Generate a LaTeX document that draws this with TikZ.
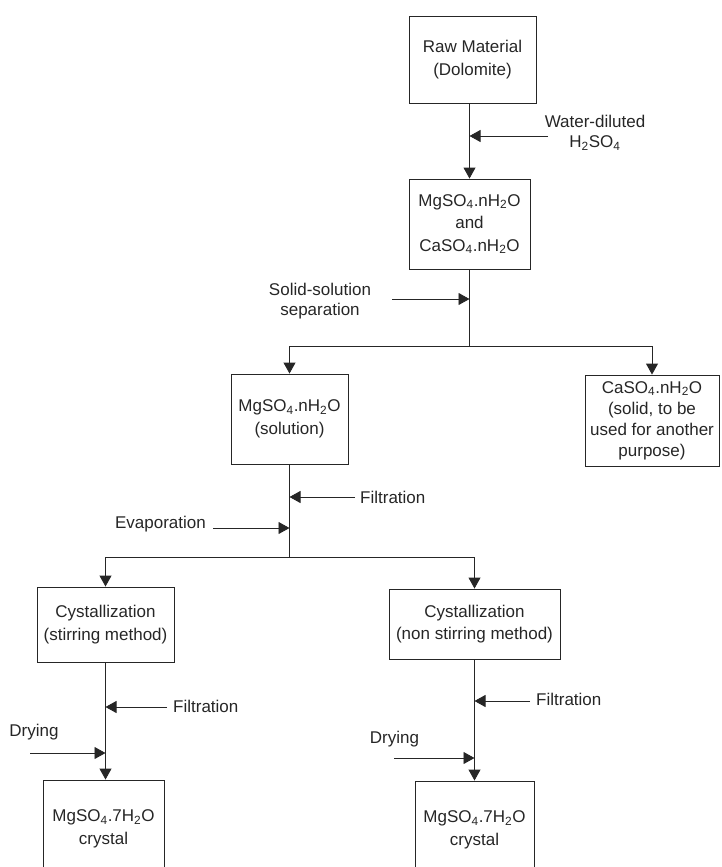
\documentclass[tikz,border=0pt]{standalone}
\usepackage{fontspec}
\setmainfont{Liberation Sans}
\usetikzlibrary{arrows.meta}

\begin{document}
\begin{tikzpicture}[x=1pt,y=-1pt,
		every node/.style = {font=\fontsize{17}{22.5}\selectfont, text=black!85},
		procbox/.style = {draw=black!85, line width=0.9pt, align=center, inner sep=0pt},
		note/.style = {align=center, inner sep=0pt, font=\fontsize{17}{20}\selectfont},
		link/.style = {draw=black!85, line width=0.9pt},
		flow/.style = {link, -{Triangle[length=11pt,width=12pt]}}]
		\useasboundingbox (0,0) rectangle (721,867);
		% boxes
		\node[procbox, minimum width=127, minimum height=87] (raw) at (472.5,59.5) {Raw Material\\(Dolomite)};
		\node[procbox, minimum width=121, minimum height=90] (mix) at (469.5,224) {MgSO\textsubscript{4}.nH\textsubscript{2}O\\and\\CaSO\textsubscript{4}.nH\textsubscript{2}O};
		\node[procbox, minimum width=117, minimum height=90] (sol) at (289.5,419) {MgSO\textsubscript{4}.nH\textsubscript{2}O\\(solution)};
		\node[procbox, minimum width=134, minimum height=91, font=\fontsize{17}{21}\selectfont] (solid) at (652,420.5) {CaSO\textsubscript{4}.nH\textsubscript{2}O\\(solid, to be\\used for another\\purpose)};
		\node[procbox, minimum width=137, minimum height=75] (stir) at (105.5,624.5) {Cystallization\\(stirring method)};
		\node[procbox, minimum width=171, minimum height=70] (nonstir) at (474.5,624) {Cystallization\\(non stirring method)};
		\node[procbox, minimum width=121, minimum height=98] (cry1) at (103.5,829) {MgSO\textsubscript{4}.7H\textsubscript{2}O\\crystal};
		\node[procbox, minimum width=119, minimum height=98] (cry2) at (474.5,830) {MgSO\textsubscript{4}.7H\textsubscript{2}O\\crystal};
		% main flow
		\coordinate (split1) at (469.5,346);
		\coordinate (split2) at (289.5,557);
		\draw[flow] (raw.south -| mix.north) -- (mix.north);
		\draw[link] (mix.south) -- (split1);
		\draw[flow] (split1) -| (sol.north);
		\draw[flow] (split1) -| (solid.north);
		\draw[link] (sol.south) -- (split2);
		\draw[flow] (split2) -| (stir.north);
		\draw[flow] (split2) -| (nonstir.north);
		\draw[flow] (stir.south) -- (stir.south |- cry1.north);
		\draw[flow] (nonstir.south) -- (nonstir.south |- cry2.north);
		% side inputs
		\node[note] (acid) at (595,133) {Water-diluted\\H\textsubscript{2}SO\textsubscript{4}};
		\coordinate (acid in) at (548,136);
		\draw[flow] (acid in) -- (acid in -| mix.north);
		\node[note] (sep) at (320,301) {Solid-solution\\separation};
		\coordinate (sep in) at (392,299);
		\draw[flow] (sep in) -- (sep in -| mix.south);
		\node[note, anchor = west] (filt1) at (360,497) {Filtration};
		\coordinate (filt1 in) at (355,497);
		\draw[flow] (filt1 in) -- (filt1 in -| sol.south);
		\node[note, anchor = east] (evap) at (206,524) {Evaporation};
		\coordinate (evap in) at (213,528);
		\draw[flow] (evap in) -- (evap in -| sol.south);
		\node[note, anchor = west] (filt2) at (173,706) {Filtration};
		\coordinate (filt2 in) at (167,707);
		\draw[flow] (filt2 in) -- (filt2 in -| stir.south);
		\node[note] (dry1) at (34,732) {Drying};
		\coordinate (dry1 in) at (30,753);
		\draw[flow] (dry1 in) -- (dry1 in -| stir.south);
		\node[note, anchor = west] (filt3) at (536,699) {Filtration};
		\coordinate (filt3 in) at (530,701);
		\draw[flow] (filt3 in) -- (filt3 in -| nonstir.south);
		\node[note] (dry2) at (394.5,739) {Drying};
		\coordinate (dry2 in) at (394,758);
		\draw[flow] (dry2 in) -- (dry2 in -| nonstir.south);
	\end{tikzpicture}
\end{document}
